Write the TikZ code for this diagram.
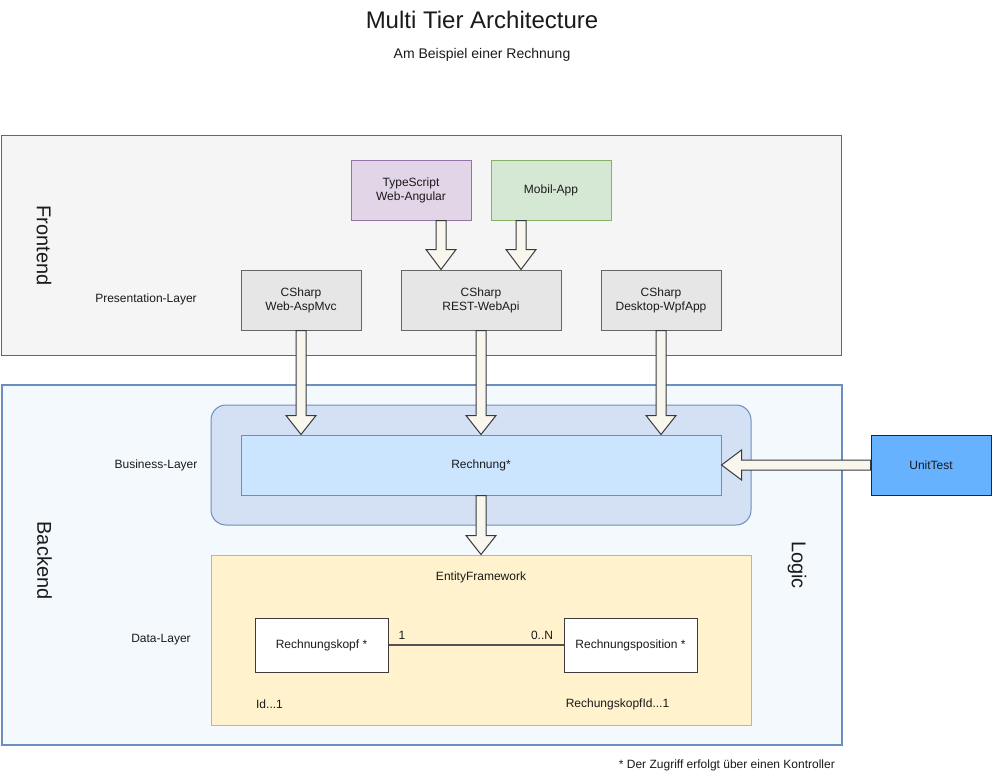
\documentclass[tikz,border=0pt]{standalone}
\usepackage{fontspec}
\setmainfont{Liberation Sans}
\usetikzlibrary{calc}
\definecolor{frfill}{HTML}{F5F5F5}
\definecolor{grstroke}{HTML}{666666}
\definecolor{csfill}{HTML}{E6E6E6}
\definecolor{tsfill}{HTML}{E1D5E7}
\definecolor{tsstroke}{HTML}{9673A6}
\definecolor{mbfill}{HTML}{D5E8D4}
\definecolor{mbstroke}{HTML}{82B366}
\definecolor{befill}{HTML}{F4F9FE}
\definecolor{blstroke}{HTML}{6C8EBF}
\definecolor{bizfill}{HTML}{D4E1F5}
\definecolor{refill}{HTML}{CCE5FF}
\definecolor{utfill}{HTML}{66B2FF}
\definecolor{utstroke}{HTML}{001DBC}
\definecolor{effill}{HTML}{FFF2CC}
\definecolor{efstroke}{HTML}{D6B656}
\definecolor{arfill}{HTML}{F9F7ED}
\definecolor{arstroke}{HTML}{36393D}
\definecolor{txt}{HTML}{1A1A1A}
\tikzset{
  txt12/.style={font=\fontsize{12}{14}\selectfont, text=txt, align=center, inner sep=0pt},
  big/.style={font=\fontsize{20}{24}\selectfont, text=txt, inner sep=0pt},
  box/.style={txt12, draw, line width=1pt, minimum width=120pt, minimum height=60pt},
  csbox/.style={box, fill=csfill, draw=grstroke},
  flexarrow/.style={draw=arstroke, fill=arfill, line width=1pt, line join=miter},
}
\newcommand\flexarrow[3][19]{%
  \coordinate (fah) at ($(#3)!#1pt!(#2)$);
  \draw[flexarrow] ($(#2)!5pt!90:(#3)$) -- ($(fah)!5pt!90:(#3)$) -- ($(fah)!15pt!90:(#3)$) -- (#3)
    -- ($(fah)!15pt!-90:(#3)$) -- ($(fah)!5pt!-90:(#3)$) -- ($(#2)!5pt!-90:(#3)$) -- cycle;}
\begin{document}
\begin{tikzpicture}[x=1pt,y=1pt]
\useasboundingbox (0,0) rectangle (992,-776);
% titles
\node[font=\fontsize{24}{28}\selectfont, text=txt, inner sep=0pt] (title) at (482,-20) {Multi Tier Architecture};
\node[font=\fontsize{14}{16}\selectfont, text=txt, inner sep=0pt] (subtitle) at (482,-55) {Am Beispiel einer Rechnung};
% frontend
\node[draw=grstroke, fill=frfill, line width=1pt, minimum width=840pt, minimum height=220pt, inner sep=0pt] (front) at (421.5,-245) {};
\node[big, rotate=-90] (frontlbl) at (44,-245.5) {Frontend};
\node[txt12] (pres) at (146,-299) {Presentation-Layer};
\node[box, fill=tsfill, draw=tsstroke] (ts) at (411,-190) {TypeScript\\Web-Angular};
\node[box, fill=mbfill, draw=mbstroke] (mobil) at (551,-190) {Mobil-App};
\node[csbox] (aspmvc) at (301,-300) {CSharp\\Web-AspMvc};
\node[csbox, minimum width=160pt] (rest) at (481,-300) {CSharp\\REST-WebApi};
\node[csbox] (wpf) at (661,-300) {CSharp\\Desktop-WpfApp};
% backend
\node[draw=blstroke, fill=befill, line width=2pt, minimum width=840pt, minimum height=360pt, inner sep=0pt] (back) at (421.5,-565) {};
\node[big, rotate=-90] (backlbl) at (44.5,-560.5) {Backend};
\node[big, rotate=-90] (logic) at (797,-565) {Logic};
\node[txt12] (biz) at (156,-465) {Business-Layer};
\node[draw=blstroke, fill=bizfill, line width=1pt, rounded corners=15pt, minimum width=540pt, minimum height=120pt, inner sep=0pt] (bizbox) at (481,-465) {};
\node[box, fill=refill, draw=blstroke, minimum width=480pt] (rechnung) at (481,-465) {Rechnung*};
\node[box, fill=utfill, draw=utstroke] (unittest) at (931,-465) {UnitTest};
\node[txt12] (data) at (161,-640) {Data-Layer};
\node[draw=efstroke, fill=effill, line width=1pt, minimum width=540pt, minimum height=170pt, inner sep=0pt] (ef) at (481,-640) {};
\node[txt12] (eflbl) at (481,-577) {EntityFramework};
\node[box, fill=white, draw=txt!85, minimum width=133pt, minimum height=54pt] (kopf) at (321.5,-645) {Rechnungskopf *};
\node[box, fill=white, draw=txt!85, minimum width=133pt, minimum height=54pt] (pos) at (630.5,-645) {Rechnungsposition *};
\draw[draw=grstroke!80!black, line width=1.3pt] (kopf.east) -- (pos.west);
\node[txt12] (one) at (402,-635) {1};
\node[txt12] (zeron) at (542,-635) {0..N};
\node[txt12] (id) at (269.5,-704) {Id...1};
\node[txt12] (fk) at (617.5,-704) {RechungskopfId...1};
\node[txt12, anchor=east] (note) at (835,-765) {* Der Zugriff erfolgt über einen Kontroller};
% arrows
\coordinate (tss) at ($(ts.south)+(30,0)$);
\coordinate (tse) at (tss |- rest.north);
\flexarrow[20]{tss}{tse}
\coordinate (mbs) at ($(mobil.south)+(-30,0)$);
\coordinate (mbe) at (mbs |- rest.north);
\flexarrow[20]{mbs}{mbe}
\coordinate (a1e) at (aspmvc.south |- rechnung.north);
\flexarrow{aspmvc.south}{a1e}
\coordinate (a2e) at (rest.south |- rechnung.north);
\flexarrow{rest.south}{a2e}
\coordinate (a3e) at (wpf.south |- rechnung.north);
\flexarrow{wpf.south}{a3e}
\coordinate (a4e) at (rechnung.south |- ef.north);
\flexarrow{rechnung.south}{a4e}
\flexarrow[20]{unittest.west}{rechnung.east}
\end{tikzpicture}
\end{document}
